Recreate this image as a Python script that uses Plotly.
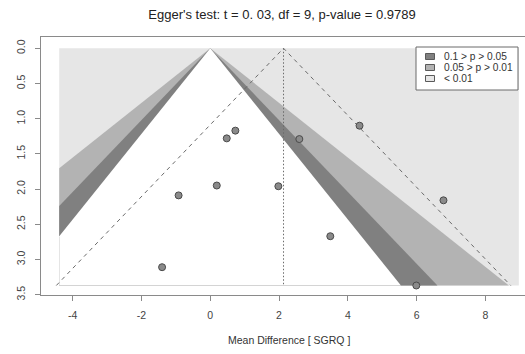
import plotly.graph_objects as go

# ---- data ----
effects = [0.73, 0.48, 0.19, -0.92, 1.98, -1.40, 2.59, 4.34, 6.78, 3.49, 5.99]
std_errors = [1.17, 1.28, 1.95, 2.09, 1.96, 3.11, 1.29, 1.10, 2.16, 2.67, 3.37]
pooled_effect = 2.13
contour_x_min = -4.39
contour_x_max = 8.97
contour_labels = ["0.1 > p > 0.05", "0.05 > p > 0.01", "< 0.01"]
contour_z = [1.645, 1.960, 2.576]
contour_colors = ["#808080", "#b3b3b3", "#e6e6e6"]
x_ticks = [-4, -2, 0, 2, 4, 6, 8]
y_ticks = [0.0, 0.5, 1.0, 1.5, 2.0, 2.5, 3.0, 3.5]
y_tick_text = ["0.0", "0.5", "1.0", "1.5", "2.0", "2.5", "3.0", "3.5"]
title_text = "Egger's test: t = 0. 03, df = 9, p-value = 0.9789"
x_title = "Mean Difference [ SGRQ ]"

FONT = "Liberation Sans, Arial, sans-serif"
W, H = 525, 354
ML, MR, MT, MB = 41, 0, 37, 59
se_max = max(std_errors)


def funnel_polygon(z):
    xs, ys = [0.0], [0.0]
    if z * se_max <= contour_x_max:
        xs += [z * se_max]; ys += [se_max]
    else:
        xs += [contour_x_max, contour_x_max]; ys += [contour_x_max / z, se_max]
    if z * se_max <= -contour_x_min:
        xs += [-z * se_max]; ys += [se_max]
    else:
        xs += [contour_x_min, contour_x_min]; ys += [se_max, -contour_x_min / z]
    xs.append(0.0); ys.append(0.0)
    return xs, ys


fig = go.Figure()

# outer region (< 0.01)
fig.add_trace(go.Scatter(
    x=[contour_x_min, contour_x_max, contour_x_max, contour_x_min, contour_x_min],
    y=[0, 0, se_max, se_max, 0], mode="lines", fill="toself",
    fillcolor=contour_colors[2], line=dict(width=0), hoverinfo="skip", showlegend=False))
# 0.05 > p > 0.01, 0.1 > p > 0.05, p > 0.1 (white)
for z, col in [(contour_z[2], contour_colors[1]), (contour_z[1], contour_colors[0]), (contour_z[0], "#ffffff")]:
    px, py = funnel_polygon(z)
    fig.add_trace(go.Scatter(x=px, y=py, mode="lines", fill="toself", fillcolor=col,
                             line=dict(width=0), hoverinfo="skip", showlegend=False))

# pseudo confidence funnel around pooled effect
fig.add_trace(go.Scatter(
    x=[pooled_effect - 1.96 * se_max, pooled_effect, pooled_effect + 1.96 * se_max],
    y=[se_max, 0, se_max], mode="lines",
    line=dict(color="#6a6a6a", width=1, dash="4px,4px"), hoverinfo="skip", showlegend=False))
fig.add_trace(go.Scatter(
    x=[pooled_effect, pooled_effect], y=[0, se_max], mode="lines",
    line=dict(color="#6a6a6a", width=1, dash="1.5px,2px"), hoverinfo="skip", showlegend=False))

# studies
fig.add_trace(go.Scatter(
    x=effects, y=std_errors, mode="markers",
    marker=dict(size=7, color="#8a8a8a", line=dict(color="#4a4a4a", width=1)),
    showlegend=False))


def pxx(v):
    return (v - ML) / (W - ML - MR)


def pxy(v):
    return (H - MB - v) / (H - MT - MB)


shapes = [dict(type="rect", xref="paper", yref="paper",
               x0=pxx(416), x1=pxx(518), y0=pxy(90), y1=pxy(47),
               line=dict(color="#6a6a6a", width=1), fillcolor="#ffffff", layer="above")]
annotations = []
legend_rows = [56.5, 67.5, 78.5]
for lab, col, yy in zip(contour_labels, contour_colors, legend_rows):
    shapes.append(dict(type="rect", xref="paper", yref="paper",
                       x0=pxx(425.5), x1=pxx(434.5), y0=pxy(yy + 3), y1=pxy(yy - 3),
                       line=dict(color="#5a5a5a", width=1), fillcolor=col, layer="above"))
    annotations.append(dict(text=lab, xref="paper", yref="paper", x=pxx(441.5), y=pxy(yy),
                            xanchor="left", yanchor="middle", showarrow=False,
                            font=dict(family=FONT, size=10.2, color="#333333")))

annotations.append(dict(text=x_title, xref="paper", yref="paper", x=pxx(289), y=pxy(340),
                        xanchor="center", yanchor="middle", showarrow=False,
                        font=dict(family=FONT, size=10.5, color="#333333")))

fig.update_layout(
    width=W, height=H,
    margin=dict(l=ML, r=MR, t=MT, b=MB, autoexpand=False),
    paper_bgcolor="white", plot_bgcolor="white",
    title=dict(text=title_text, xref="container", yref="container",
               x=282 / W, y=1 - 14 / H, xanchor="center", yanchor="middle",
               font=dict(family=FONT, size=13, color="#222222")),
    shapes=shapes, annotations=annotations,
    xaxis=dict(range=[-4.92, 9.15], tickvals=x_ticks, ticktext=[str(t) for t in x_ticks],
               showgrid=False, zeroline=False, showline=True, mirror=True, automargin=False,
               linecolor="#8a8a8a", linewidth=1, ticks="outside", ticklen=5,
               tickcolor="#8a8a8a", ticklabelstandoff=5,
               tickfont=dict(family=FONT, size=10.5, color="#444444")),
    yaxis=dict(range=[3.505, -0.16], tickvals=y_ticks, ticktext=y_tick_text,
               showgrid=False, zeroline=False, showline=True, automargin=False,
               linecolor="#8a8a8a", linewidth=1, ticks="outside", ticklen=5,
               tickcolor="#8a8a8a", tickangle=-90, ticklabelstandoff=6,
               tickfont=dict(family=FONT, size=10.5, color="#444444")),
    font=dict(family=FONT),
    hovermode=False,
)

fig.write_html("out.html", config={"displayModeBar": False},
               post_script="document.body.style.margin='0';document.body.style.overflow='hidden';")
